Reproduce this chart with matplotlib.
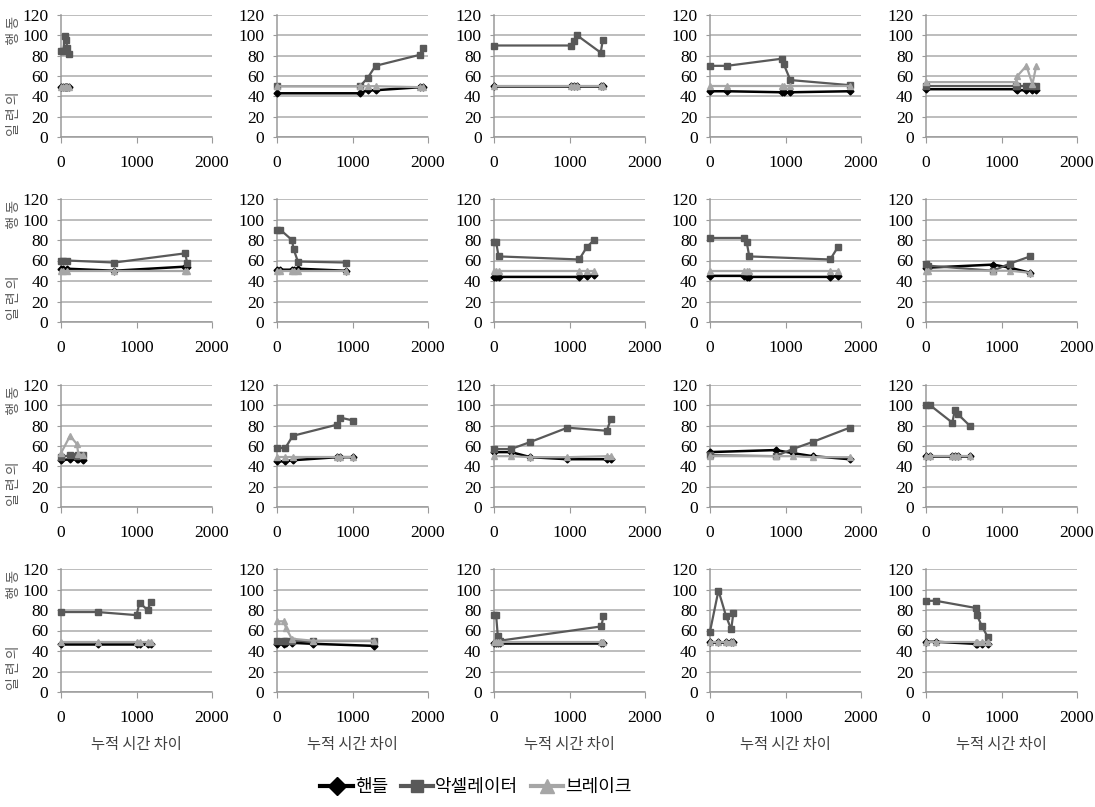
import matplotlib
matplotlib.use("Agg")
import matplotlib.pyplot as plt
from matplotlib.lines import Line2D

serif = "Liberation Serif"
plt.rcParams["font.family"] = [serif, "DejaVu Serif"]

# ---------------- data ----------------
series_names = ["핸들", "악셀레이터", "브레이크"]
x_ticks = [0, 1000, 2000]
y_ticks = [0, 20, 40, 60, 80, 100, 120]
x_label = "누적 시간 차이"
y_label = "일 련 의               행 동"

# cumulative time of each event, one list per panel (row by row)
times = [
    [0, 30, 50, 65, 85, 105],
    [0, 1100, 1200, 1305, 1900, 1935],
    [0, 1022, 1056, 1100, 1413, 1441],
    [0, 224, 950, 975, 1064, 1849],
    [0, 1190, 1210, 1330, 1410, 1460],
    [0, 30, 75, 705, 1645, 1670],
    [0, 44, 198, 220, 277, 910],
    [0, 28, 61, 1128, 1229, 1324],
    [0, 447, 486, 520, 1592, 1693],
    [0, 20, 890, 1110, 1380],
    [0, 120, 210, 230, 285],
    [0, 110, 209, 795, 835, 1010],
    [0, 225, 483, 972, 1494, 1550],
    [0, 870, 1095, 1360, 1850],
    [0, 56, 348, 382, 427, 579],
    [0, 487, 1000, 1040, 1148, 1191],
    [0, 87, 122, 196, 478, 1285],
    [0, 28, 50, 73, 1421, 1450],
    [0, 112, 213, 281, 309],
    [0, 129, 657, 674, 742, 815],
]

handle = [
    [49, 49, 49, 49, 49, 49],
    [43, 43, 46, 46, 49, 49],
    [50, 50, 50, 50, 50, 50],
    [45, 45, 44, 44, 44, 45],
    [47, 47, 46, 46, 46, 46],
    [52, 52, 52, 50, 54, 54],
    [51, 51, 51, 51, 52, 50],
    [44, 44, 44, 44, 45, 46],
    [45, 45, 44, 44, 44, 45],
    [53, 53, 56, 53, 48],
    [46, 47, 47, 47, 46],
    [45, 45, 46, 49, 49, 49],
    [54, 54, 49, 47, 47, 47],
    [54, 56, 53, 50, 47],
    [50, 50, 50, 50, 50, 50],
    [47, 47, 47, 47, 47, 47],
    [47, 47, 48, 48, 47, 45],
    [48, 48, 48, 48, 48, 48],
    [49, 49, 49, 49, 49],
    [49, 49, 47, 47, 47, 47],
]

accelerator = [
    [85, 85, 99, 95, 88, 82],
    [50, 50, 58, 70, 81, 88],
    [90, 90, 94, 100, 83, 95],
    [70, 70, 77, 72, 56, 51],
    [50, 50, 50, 50, 50, 50],
    [60, 60, 60, 58, 67, 58],
    [90, 90, 80, 71, 59, 58],
    [78, 78, 64, 61, 73, 80],
    [82, 82, 78, 64, 61, 73],
    [57, 55, 50, 57, 64],
    [49, 51, 50, 51, 51],
    [58, 58, 70, 81, 88, 85],
    [57, 57, 64, 78, 75, 87],
    [51, 50, 57, 64, 78],
    [100, 100, 83, 95, 91, 80],
    [78, 78, 75, 87, 80, 88],
    [50, 50, 50, 50, 50, 50],
    [75, 75, 55, 50, 64, 74],
    [59, 99, 74, 61, 77],
    [89, 89, 82, 75, 64, 54],
]

brake = [
    [49, 49, 49, 49, 49, 49],
    [50, 50, 50, 50, 49, 49],
    [50, 50, 50, 50, 50, 50],
    [50, 50, 50, 50, 50, 50],
    [54, 54, 60, 70, 52, 70],
    [50, 50, 50, 50, 50, 50],
    [50, 50, 50, 50, 50, 50],
    [50, 50, 50, 50, 50, 50],
    [50, 50, 50, 50, 50, 50],
    [50, 50, 50, 50, 48],
    [53, 70, 62, 52, 51],
    [49, 49, 49, 49, 49, 49],
    [50, 50, 49, 49, 50, 50],
    [50, 50, 50, 49, 49],
    [50, 50, 50, 50, 50, 50],
    [49, 49, 49, 49, 49, 49],
    [69, 69, 62, 52, 50, 50],
    [49, 49, 49, 49, 49, 49],
    [49, 49, 49, 49, 49],
    [49, 49, 49, 49, 49, 49],
]

# ---------------- style ----------------
W, H = 1095, 807
fig = plt.figure(figsize=(W / 100, H / 100), dpi=100)
fig.patch.set_facecolor("white")

lefts_px = [61, 277, 494, 710, 926]
tops_px = [15, 199, 385, 569]
bottoms_px = [137, 322, 507, 692]
width_px = 151

c_handle = "#000000"
c_accel = "#595959"
c_brake = "#a6a6a6"
grid_c = "#ababab"
spine_c = "#9a9a9a"
kfont = ["Noto Sans CJK KR", "DejaVu Sans"]

for i in range(20):
    r, c = divmod(i, 5)
    l, t, b = lefts_px[c], tops_px[r], bottoms_px[r]
    ax = fig.add_axes([l / W, 1 - b / H, width_px / W, (b - t) / H])
    ax.set_xlim(0, 2000)
    ax.set_ylim(0, 120)
    ax.set_xticks(x_ticks)
    ax.set_yticks(y_ticks)
    ax.set_xticklabels([str(v) for v in x_ticks], fontfamily=serif, fontsize=12.5)
    ax.set_yticklabels([str(v) for v in y_ticks], fontfamily=serif, fontsize=12.5)
    ax.grid(axis="y", color=grid_c, lw=1.1)
    ax.set_axisbelow(True)
    for s in ("top", "right"):
        ax.spines[s].set_visible(False)
    for s in ("left", "bottom"):
        ax.spines[s].set_color(spine_c)
        ax.spines[s].set_linewidth(1.1)
    ax.tick_params(axis="y", length=3, color=spine_c, pad=6)
    ax.tick_params(axis="x", length=4, color=spine_c, pad=9)

    ax.plot(times[i], handle[i], color=c_handle, marker="D", ms=3.5,
            lw=1.8, clip_on=False, zorder=3)
    ax.plot(times[i], accelerator[i], color=c_accel, marker="s", ms=4,
            lw=1.6, clip_on=False, zorder=4)
    ax.plot(times[i], brake[i], color=c_brake, marker="^", ms=4.5,
            lw=1.6, clip_on=False, zorder=5)

    if c == 0:
        fig.text(14 / W, 1 - ((t + b) / 2) / H, y_label, rotation=90,
                 ha="center", va="center", fontsize=10, color="#5a5a5a",
                 family=kfont)
    if r == 3:
        fig.text((l + width_px / 2) / W, 1 - 745 / H, x_label,
                 ha="center", va="center", fontsize=11, color="#404040",
                 family=kfont)

handles = [
    Line2D([], [], color=c_handle, marker="D", ms=9, lw=3),
    Line2D([], [], color=c_accel, marker="s", ms=9, lw=3),
    Line2D([], [], color=c_brake, marker="^", ms=10, lw=3),
]
fig.legend(handles, series_names, loc="center",
           bbox_to_anchor=(476 / W, 1 - 787 / H), ncol=3, frameon=False,
           prop={"family": kfont, "size": 13}, handlelength=1.8,
           handletextpad=0.1, columnspacing=0.7)

fig.savefig("out.png", dpi=100, facecolor="white")
